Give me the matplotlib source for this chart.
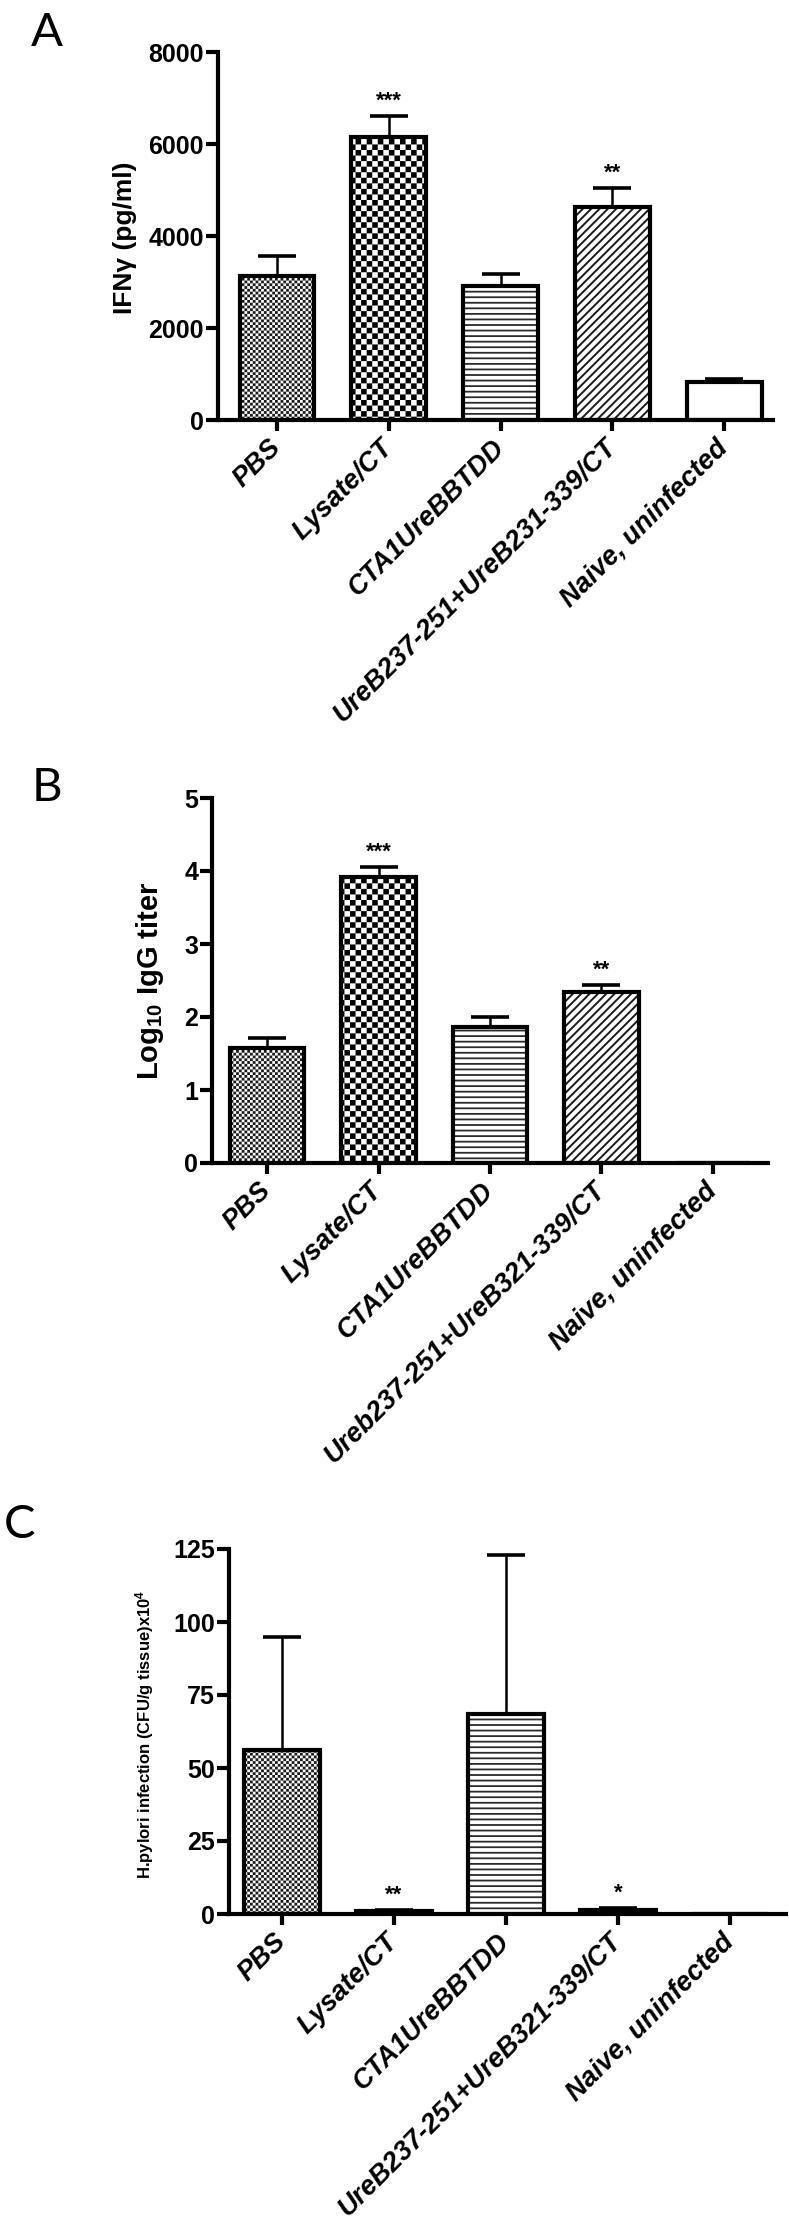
import numpy as np
import matplotlib
matplotlib.use('Agg')
import matplotlib.pyplot as plt
import matplotlib.hatch as mhatch
from matplotlib.path import Path

# ---------------- data ----------------
labels_A = ['PBS', 'Lysate/CT', 'CTA1UreBBTDD', 'UreB237-251+UreB231-339/CT', 'Naive, uninfected']
labels_B = ['PBS', 'Lysate/CT', 'CTA1UreBBTDD', 'Ureb237-251+UreB321-339/CT', 'Naive, uninfected']
labels_C = ['PBS', 'Lysate/CT', 'CTA1UreBBTDD', 'UreB237-251+UreB321-339/CT', 'Naive, uninfected']

ifng_mean = [3130, 6160, 2920, 4630, 820]
ifng_err = [440, 450, 250, 410, 70]
igg_mean = [1.58, 3.92, 1.86, 2.34, 0.0]
igg_err = [0.13, 0.13, 0.14, 0.10, 0.0]
cfu_mean = [56.0, 1.0, 68.5, 1.5, 0.0]
cfu_err = [39.0, 0.5, 54.5, 0.6, 0.0]

sig_A = ['', '***', '', '**', '']
sig_B = ['', '***', '', '**', '']
sig_C = ['', '**', '', '*', '']

yticks_A = [0, 2000, 4000, 6000, 8000]
yticks_B = [0, 1, 2, 3, 4, 5]
yticks_C = [0, 25, 50, 75, 100, 125]


# ------------- checkerboard hatch ('O' -> checker cells) -------------
class _Checker(mhatch.HatchPatternBase):
    def __init__(self, hatch, density):
        self.n = hatch.count('O') * density
        self.num_vertices = (self.n * self.n // 2) * 5 if self.n else 0

    def set_vertices_and_codes(self, vertices, codes):
        n = self.n
        c = 1.0 / n
        sq = np.array([[0, 0], [c, 0], [c, c], [0, c], [0, 0]], float)
        cd = [Path.MOVETO, Path.LINETO, Path.LINETO, Path.LINETO, Path.CLOSEPOLY]
        k = 0
        for i in range(n):
            for j in range(n):
                if (i + j) % 2 == 0:
                    vertices[k:k + 5] = sq + [i * c, j * c]
                    codes[k:k + 5] = cd
                    k += 5


mhatch._hatch_types = [t for t in mhatch._hatch_types
                       if t is not mhatch.LargeCircles] + [_Checker]

# ---------------- style ----------------
plt.rcParams['font.family'] = ['Liberation Sans', 'DejaVu Sans']
plt.rcParams['mathtext.fontset'] = 'custom'
plt.rcParams['mathtext.rm'] = 'Liberation Sans:bold'
plt.rcParams['mathtext.it'] = 'Liberation Sans:bold'
plt.rcParams['mathtext.bf'] = 'Liberation Sans:bold'
plt.rcParams['mathtext.default'] = 'regular'

W, H = 789, 2240
fig = plt.figure(figsize=(W / 100, H / 100), dpi=100)
fig.patch.set_facecolor('white')

hatches = ['OOOOOO', 'OOO', '---', '////', None]
hatch_cols = ['#1a1a1a', 'black', '#2a2a2a', '#1a1a1a', 'black']
hatch_lws = [0.01, 0.01, 1.3, 1.4, 1.0]
BAR_W = 0.67
LW = 3.0


def px(x, y):
    return x / W, 1 - y / H


def panel(x_axis, x_first, spacing, x_end, y0, ytop, means, errs, labels, sig,
          yticks):
    n = len(means)
    left = x_axis / W
    width = (x_end - x_axis) / W
    bottom = (H - y0) / H
    height = (y0 - ytop) / H
    ax = fig.add_axes([left, bottom, width, height])
    xlim = ((x_axis - x_first) / spacing, (x_end - x_first) / spacing)
    x = np.arange(n)
    for i in range(n):
        with plt.rc_context({'hatch.linewidth': hatch_lws[i]}):
            bars = ax.bar(x[i], means[i], width=BAR_W, color='white',
                          edgecolor=hatch_cols[i], linewidth=0,
                          hatch=hatches[i], zorder=2)
        for p in bars:
            if hasattr(p, 'set_hatch_linewidth'):
                p.set_hatch_linewidth(hatch_lws[i])
    ax.bar(x, means, width=BAR_W, fill=False, edgecolor='black',
           linewidth=LW, zorder=3)
    idx = [i for i in range(n) if errs[i] > 0]
    ax.errorbar([x[i] for i in idx], [means[i] for i in idx],
                yerr=[[0] * len(idx), [errs[i] for i in idx]],
                fmt='none', ecolor='black', elinewidth=1.8, capsize=14,
                capthick=2.6, zorder=4)
    for i in range(n):
        if sig[i]:
            ax.annotate(sig[i], (x[i], means[i] + errs[i]), xytext=(0, 3),
                        textcoords='offset points', ha='center', va='bottom',
                        fontsize=16, fontweight='bold')
    ax.set_xlim(*xlim)
    ax.set_ylim(yticks[0], yticks[-1])
    ax.set_yticks(yticks)
    ax.set_yticklabels([str(t) for t in yticks], fontsize=18,
                       fontweight='bold')
    ax.set_xticks(x)
    ax.set_xticklabels(labels, rotation=45, ha='right', va='center',
                       rotation_mode='anchor', fontsize=19.5,
                       fontweight='bold', fontstyle='italic')
    for s in ['top', 'right']:
        ax.spines[s].set_visible(False)
    for s in ['left', 'bottom']:
        ax.spines[s].set_linewidth(LW)
    ax.tick_params(axis='y', direction='out', length=9, width=LW, pad=1)
    ax.tick_params(axis='x', direction='out', length=8, width=LW, pad=9)
    ax.set_facecolor('none')
    return ax


letter_font = dict(fontsize=34, family=['Lato', 'DejaVu Sans'],
                   fontweight='normal', color='black')

# Panel A
panel(218, 277, 111.8, 773, 420, 52, ifng_mean, ifng_err, labels_A, sig_A,
      yticks_A)
fig.text(*px(125, 238), 'IFNγ (pg/ml)', rotation=90, ha='center',
         va='center', fontsize=19, fontweight='bold')
fig.text(*px(47, 33), 'A', ha='center', va='center', **letter_font)

# Panel B
panel(212, 267, 111.5, 768, 1163, 798, igg_mean, igg_err, labels_B, sig_B,
      yticks_B)
fig.text(*px(150, 981), r'Log$_{10}$ IgG titer', rotation=90, ha='center',
         va='center', fontsize=21, fontweight='bold')
fig.text(*px(47, 788), 'B', ha='center', va='center', **letter_font)

# Panel C
panel(229, 282, 112, 786, 1914, 1549, cfu_mean, cfu_err, labels_C, sig_C,
      yticks_C)
fig.text(*px(145, 1734), r'H.pylori infection (CFU/g tissue)x10$^4$',
         rotation=90, ha='center', va='center', fontsize=12,
         fontweight='bold')
fig.text(*px(20, 1525), 'C', ha='center', va='center', **letter_font)

fig.savefig('out.png', dpi=100, facecolor='white')
